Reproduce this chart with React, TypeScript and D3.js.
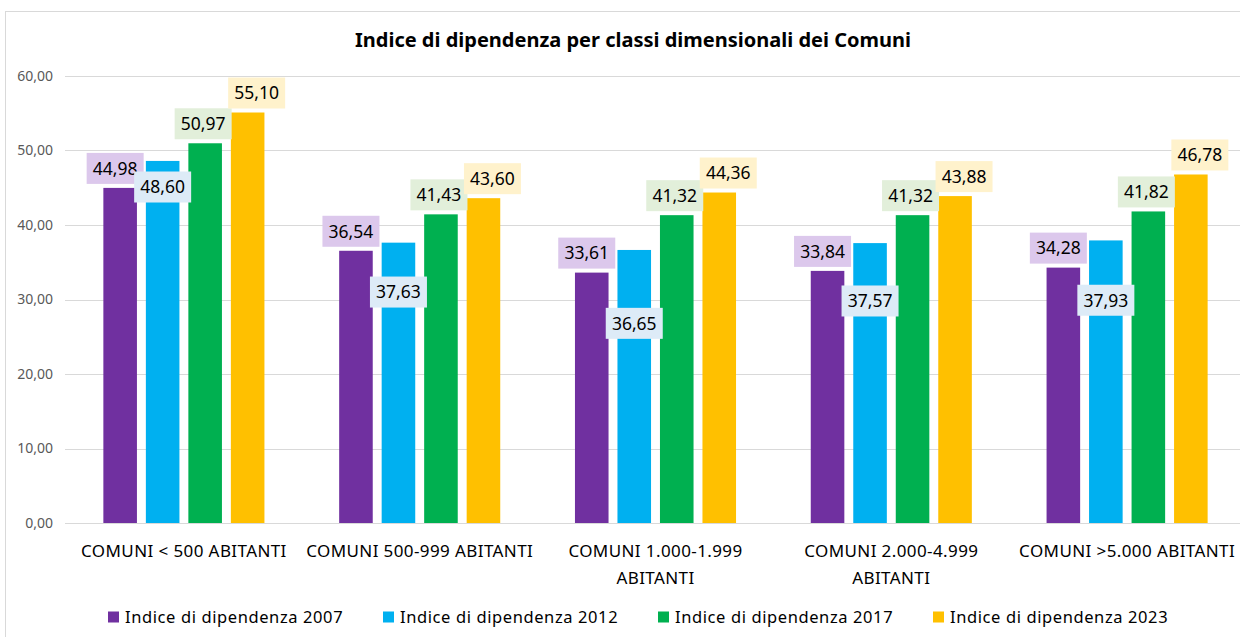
import React from 'react';
import * as d3 from 'd3';

// chart data
const categories = [
  ['COMUNI < 500 ABITANTI'],
  ['COMUNI 500-999 ABITANTI'],
  ['COMUNI 1.000-1.999', 'ABITANTI'],
  ['COMUNI 2.000-4.999', 'ABITANTI'],
  ['COMUNI >5.000 ABITANTI'],
];
const seriesNames = [
  'Indice di dipendenza 2007',
  'Indice di dipendenza 2012',
  'Indice di dipendenza 2017',
  'Indice di dipendenza 2023',
];
const values2007 = [44.98, 36.54, 33.61, 33.84, 34.28];
const values2012 = [48.6, 37.63, 36.65, 37.57, 37.93];
const values2017 = [50.97, 41.43, 41.32, 41.32, 41.82];
const values2023 = [55.1, 43.6, 44.36, 43.88, 46.78];
// the 2012 labels sit inside the bars, at these values
const label2012At = [45.1, 31.0, 26.8, 29.8, 29.9];
const yTicks = [0, 10, 20, 30, 40, 50, 60];

const seriesValues = [values2007, values2012, values2017, values2023];
const barColors = ['#7030a0', '#00b0f0', '#00b050', '#ffc000'];
const labelFills = ['#dcc8ec', '#ddebf7', '#e2efda', '#fff2cc'];
const labelDx = [-5, 0, -2, 9];

const W = 1240;
const H = 637;
const FONT = '"Noto Sans", sans-serif';

const fmt = (v: number) => v.toFixed(2).replace('.', ',');

export default function App() {
  const x0 = d3.scaleBand<number>().domain(d3.range(categories.length)).range([66, 1245]);
  const x1 = d3
    .scaleBand<number>()
    .domain(d3.range(seriesNames.length))
    .range([0, 170])
    .paddingInner(0.21)
    .paddingOuter(0.105);
  const groupOffset = (x0.bandwidth() - 170) / 2;
  const y = d3.scaleLinear().domain([0, 60]).range([523, 76]);

  const legendX = d3.scaleLinear().domain([0, 1]).range([108, 383]);

  return (
    <svg
      width={W}
      height={H}
      style={{ position: 'absolute', left: 0, top: 0, background: '#fff' }}
      fontFamily={FONT}
    >
      <rect x={5.5} y={11.5} width={W} height={H} fill="#fff" stroke="#d9d9d9" />

      <text x={633} y={47} textAnchor="middle" fontSize={20} fontWeight="bold" fill="#000">
        Indice di dipendenza per classi dimensionali dei Comuni
      </text>

      {/* grid + y labels */}
      {yTicks.map((t) => (
        <g key={t}>
          <line x1={65} x2={1240} y1={Math.round(y(t)) + 0.5} y2={Math.round(y(t)) + 0.5} stroke="#d9d9d9" />
          <text x={53} y={y(t)} dy="0.35em" textAnchor="end" fontSize={14} fill="#595959">
            {fmt(t)}
          </text>
        </g>
      ))}

      {/* bars */}
      {categories.map((_, ci) => (
        <g key={ci} transform={`translate(${x0(ci)! + groupOffset},0)`}>
          {seriesValues.map((vals, si) => (
            <rect
              key={si}
              x={x1(si)}
              y={y(vals[ci])}
              width={x1.bandwidth()}
              height={y(0) - y(vals[ci])}
              fill={barColors[si]}
            />
          ))}
        </g>
      ))}

      {/* data labels */}
      {categories.map((_, ci) => (
        <g key={ci} transform={`translate(${x0(ci)! + groupOffset},0)`}>
          {seriesValues.map((vals, si) => {
            const cx = x1(si)! + x1.bandwidth() / 2 + labelDx[si];
            const cy = si === 1 ? y(label2012At[ci]) : y(vals[ci]) - 19.5;
            return (
              <g key={si}>
                <rect x={cx - 28.5} y={cy - 15.5} width={57} height={31} fill={labelFills[si]} />
                <text x={cx} y={cy} dy="0.36em" textAnchor="middle" fontSize={17.5} fill="#000">
                  {fmt(vals[ci])}
                </text>
              </g>
            );
          })}
        </g>
      ))}

      {/* x labels */}
      {categories.map((lines, ci) => (
        <text
          key={ci}
          x={x0(ci)! + x0.bandwidth() / 2}
          y={557}
          textAnchor="middle"
          fontSize={17}
          letterSpacing={0.4}
          fill="#000"
        >
          {lines.map((ln, li) => (
            <tspan key={li} x={x0(ci)! + x0.bandwidth() / 2} dy={li === 0 ? 0 : 27}>
              {ln}
            </tspan>
          ))}
        </text>
      ))}

      {/* legend */}
      {seriesNames.map((name, si) => (
        <g key={name} transform={`translate(${legendX(si)},617)`}>
          <rect x={0} y={-5.5} width={11} height={11} fill={barColors[si]} />
          <text x={17} y={0} dy="0.35em" fontSize={16.5} letterSpacing={0.6} fill="#000">
            {name}
          </text>
        </g>
      ))}
    </svg>
  );
}
